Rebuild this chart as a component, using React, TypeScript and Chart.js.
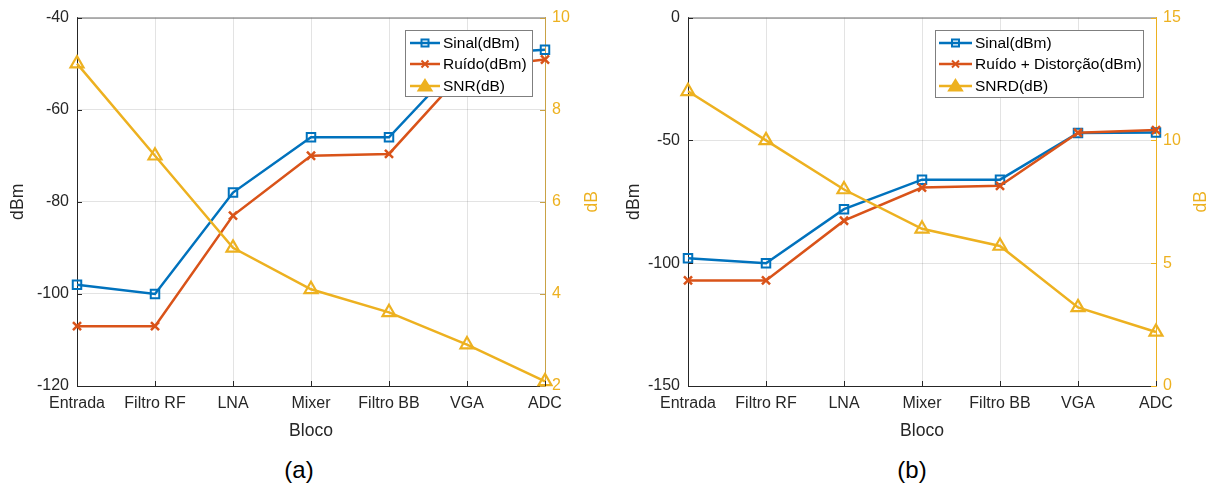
import React, { useEffect, useRef } from "react";
import { Chart, registerables } from "chart.js";
Chart.register(...registerables);

const FONT = '"Liberation Sans", Arial, Helvetica, sans-serif';
Chart.defaults.font.family = FONT;

// ---------- data ----------
const categories = ["Entrada", "Filtro RF", "LNA", "Mixer", "Filtro BB", "VGA", "ADC"];

const sinalA = [-98, -100, -78, -66, -66, -48, -47];
const ruidoA = [-107, -107, -83, -70, -69.6, -51, -49.1];
const snrA = [9.0, 7.0, 5.0, 4.1, 3.6, 2.9, 2.1];

const sinalB = [-98, -100, -78, -66, -66, -47, -46.8];
const ruidoB = [-107, -107, -82.7, -69.2, -68.5, -46.9, -45.8];
const snrdB = [12, 10, 8, 6.4, 5.7, 3.2, 2.2];

const legendA = ["Sinal(dBm)", "Ruído(dBm)", "SNR(dB)"];
const legendB = ["Sinal(dBm)", "Ruído + Distorção(dBm)", "SNRD(dB)"];

const leftRangeA = [-120, -40, 20];
const rightRangeA = [2, 10, 2];
const leftRangeB = [-150, 0, 50];
const rightRangeB = [0, 15, 5];

const xTitle = "Bloco";
const leftTitle = "dBm";
const rightTitle = "dB";

// ---------- styles ----------
const BLUE = "#0072BD";
const ORANGE = "#D95319";
const YELLOW = "#EDB120";
const AXIS = "#262626";
const GRID = "rgba(38,38,38,0.13)";

function drawMarker(ctx: CanvasRenderingContext2D, kind: string, x: number, y: number, color: string) {
  ctx.save();
  ctx.strokeStyle = color;
  ctx.fillStyle = color;
  ctx.lineWidth = 2;
  ctx.beginPath();
  if (kind === "rect") {
    ctx.rect(x - 3.5, y - 3.5, 7, 7);
    ctx.stroke();
  } else if (kind === "cross") {
    ctx.moveTo(x - 3.5, y - 3.5);
    ctx.lineTo(x + 3.5, y + 3.5);
    ctx.moveTo(x + 3.5, y - 3.5);
    ctx.lineTo(x - 3.5, y + 3.5);
    ctx.stroke();
  } else {
    ctx.moveTo(x, y - 6);
    ctx.lineTo(x + 6.5, y + 4.5);
    ctx.lineTo(x - 6.5, y + 4.5);
    ctx.closePath();
    ctx.fill();
    ctx.stroke();
  }
  ctx.restore();
}

const matlabPlugin = {
  id: "matlab",
  afterDraw(chart: any, _args: any, opts: any) {
    const ctx: CanvasRenderingContext2D = chart.ctx;
    const { left, right, top, bottom } = chart.chartArea;
    const xs = chart.scales.x;
    const ys = chart.scales.y;
    const y1 = chart.scales.y1;
    ctx.save();
    // top box line
    ctx.strokeStyle = "#6f6f6f";
    ctx.lineWidth = 1;
    ctx.beginPath();
    ctx.moveTo(left, top + 0.5);
    ctx.lineTo(right, top + 0.5);
    ctx.stroke();
    // inward ticks
    ctx.strokeStyle = AXIS;
    ctx.beginPath();
    xs.ticks.forEach((_t: any, i: number) => {
      const px = Math.round(xs.getPixelForTick(i)) + 0.5;
      ctx.moveTo(px, bottom);
      ctx.lineTo(px, bottom - 5);
    });
    ys.ticks.forEach((t: any) => {
      const py = Math.round(ys.getPixelForValue(t.value)) + 0.5;
      ctx.moveTo(left, py);
      ctx.lineTo(left + 5, py);
    });
    ctx.stroke();
    ctx.strokeStyle = opts.rightColor;
    ctx.beginPath();
    y1.ticks.forEach((t: any) => {
      const py = Math.round(y1.getPixelForValue(t.value)) + 0.5;
      ctx.moveTo(right, py);
      ctx.lineTo(right - 5, py);
    });
    ctx.stroke();
    // right axis title (MATLAB style, reading bottom to top)
    ctx.save();
    ctx.translate(opts.rightTitleX, (top + bottom) / 2);
    ctx.rotate(-Math.PI / 2);
    ctx.fillStyle = YELLOW;
    ctx.font = `17.6px ${FONT}`;
    ctx.textAlign = "center";
    ctx.textBaseline = "middle";
    ctx.fillText(rightTitle, 0, 0);
    ctx.restore();
    // legend
    const lg = opts.legend;
    ctx.fillStyle = "#ffffff";
    ctx.fillRect(lg.x, lg.y, lg.w, lg.h);
    ctx.strokeStyle = "#7f7f7f";
    ctx.lineWidth = 1;
    ctx.strokeRect(lg.x + 0.5, lg.y + 0.5, lg.w, lg.h);
    const colors = [BLUE, ORANGE, YELLOW];
    const markers = ["rect", "cross", "tri"];
    lg.labels.forEach((label: string, i: number) => {
      const ry = lg.rows[i];
      ctx.strokeStyle = colors[i];
      ctx.lineWidth = 2.5;
      ctx.beginPath();
      ctx.moveTo(lg.l0, ry);
      ctx.lineTo(lg.l1, ry);
      ctx.stroke();
      drawMarker(ctx, markers[i], (lg.l0 + lg.l1) / 2, ry, colors[i]);
      ctx.fillStyle = "#000";
      ctx.font = `15.5px ${FONT}`;
      ctx.textAlign = "left";
      ctx.textBaseline = "middle";
      ctx.fillText(label, lg.tx, ry + 1);
    });
    ctx.restore();
  },
};

function makeConfig(p: any): any {
  const tickFont = { size: 16, family: FONT };
  const titleFont = { size: 17.6, family: FONT };
  return {
    type: "line",
    data: {
      labels: categories,
      datasets: [
        {
          label: p.legend.labels[0], data: p.sinal, yAxisID: "y", order: 2,
          borderColor: BLUE, backgroundColor: "rgba(0,0,0,0)", borderWidth: 2.5,
          pointStyle: "rect", pointRadius: 6, pointBorderWidth: 2, tension: 0, clip: false,
        },
        {
          label: p.legend.labels[1], data: p.ruido, yAxisID: "y", order: 1,
          borderColor: ORANGE, backgroundColor: "rgba(0,0,0,0)", borderWidth: 2.5,
          pointStyle: "crossRot", pointRadius: 5.7, pointBorderWidth: 2.5, tension: 0, clip: false,
        },
        {
          label: p.legend.labels[2], data: p.snr, yAxisID: "y1", order: 0,
          borderColor: YELLOW, backgroundColor: "rgba(0,0,0,0)", borderWidth: 2.5,
          pointStyle: "triangle", pointRadius: 7.5, pointBorderWidth: 2.2, tension: 0, clip: false,
        },
      ],
    },
    options: {
      animation: false,
      responsive: false,
      events: [],
      layout: { autoPadding: false, padding: { top: 16, left: 0, right: 0, bottom: 0 } },
      plugins: {
        legend: { display: false },
        tooltip: { enabled: false },
        matlab: { legend: p.legend, rightColor: p.rightColor, rightTitleX: p.rightTitleX },
      },
      scales: {
        x: {
          type: "category",
          offset: false,
          grid: { color: GRID, drawTicks: false },
          border: { color: AXIS, width: 1 },
          ticks: { font: tickFont, color: AXIS, padding: 8, maxRotation: 0, autoSkip: false },
          title: { display: true, text: xTitle, font: titleFont, color: AXIS, padding: { top: 0, bottom: 8 } },
          afterFit: (s: any) => { s.height = 64; },
        },
        y: {
          position: "left",
          min: p.left[0], max: p.left[1],
          grid: { color: GRID, drawTicks: false },
          border: { color: AXIS, width: 1 },
          ticks: { font: tickFont, color: AXIS, padding: 8, stepSize: p.left[2] },
          title: { display: true, text: leftTitle, font: titleFont, color: AXIS, padding: { top: p.leftTitlePad, bottom: 0 } },
          afterFit: (s: any) => { s.width = p.plotLeft; },
        },
        y1: {
          position: "right",
          min: p.right[0], max: p.right[1],
          grid: { display: false, drawTicks: false },
          border: { color: p.rightColor, width: 1 },
          ticks: { font: tickFont, color: YELLOW, padding: 7, stepSize: p.right[2] },
          afterFit: (s: any) => { s.width = p.width - p.plotRight; },
        },
      },
    },
    plugins: [matlabPlugin],
  };
}

const cfgA = {
  width: 605, plotLeft: 77, plotRight: 545,
  sinal: sinalA, ruido: ruidoA, snr: snrA,
  left: leftRangeA, right: rightRangeA,
  leftTitlePad: 8, rightTitleX: 592, rightColor: "#C9A245",
  legend: { x: 405, y: 30, w: 127, h: 66, rows: [43, 64, 86], l0: 410, l1: 440, tx: 443, labels: legendA },
};

const cfgB = {
  width: 606, plotLeft: 83, plotRight: 551,
  sinal: sinalB, ruido: ruidoB, snr: snrdB,
  left: leftRangeB, right: rightRangeB,
  leftTitlePad: 19, rightTitleX: 596, rightColor: YELLOW,
  legend: { x: 330, y: 30, w: 208, h: 67, rows: [43, 64, 86], l0: 334, l1: 367, tx: 370, labels: legendB },
};

function Panel({ cfg, left }: { cfg: any; left: number }) {
  const ref = useRef<HTMLCanvasElement | null>(null);
  useEffect(() => {
    const chart = new Chart(ref.current as HTMLCanvasElement, makeConfig(cfg));
    return () => chart.destroy();
  }, []);
  return (
    <canvas
      ref={ref}
      width={cfg.width}
      height={450}
      style={{ position: "absolute", left, top: 0, width: cfg.width, height: 450, display: "block" }}
    />
  );
}

const captionStyle: React.CSSProperties = {
  position: "absolute",
  top: 455,
  width: 100,
  textAlign: "center",
  fontFamily: FONT,
  fontSize: 24,
  lineHeight: "30px",
  color: "#000",
};

export default function App() {
  return (
    <div style={{ position: "fixed", left: 0, top: 0, width: 1211, height: 488, background: "#fff", overflow: "hidden" }}>
      <Panel cfg={cfgA} left={0} />
      <Panel cfg={cfgB} left={605} />
      <div style={{ ...captionStyle, left: 249 }}>(a)</div>
      <div style={{ ...captionStyle, left: 862 }}>(b)</div>
    </div>
  );
}
